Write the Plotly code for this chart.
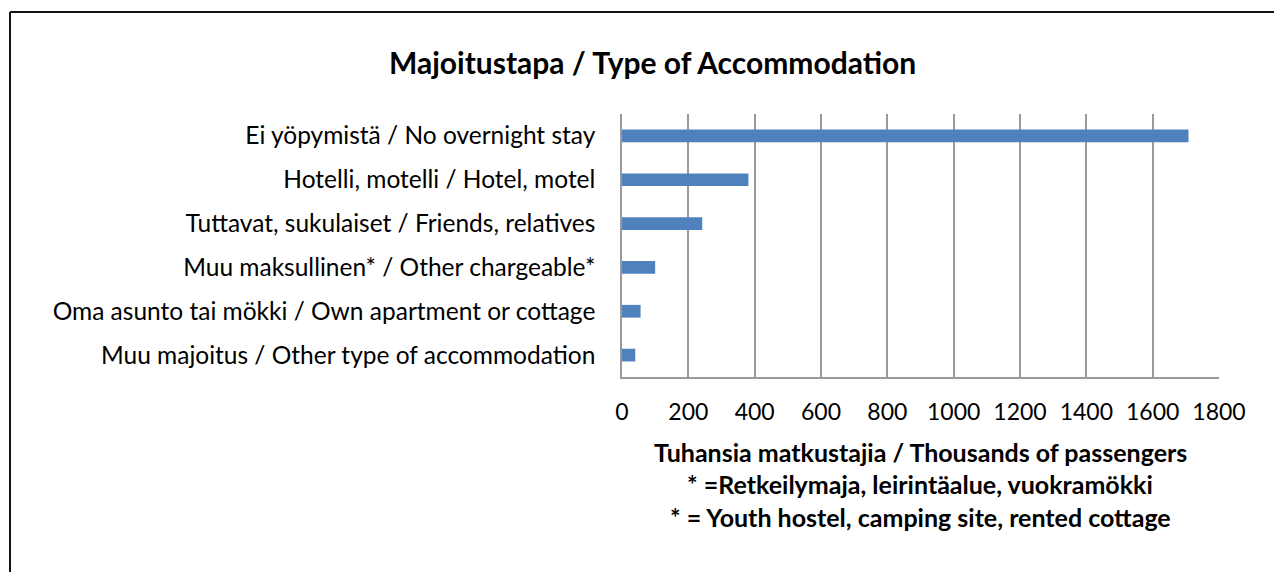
import plotly.graph_objects as go

categories = [
    "Ei yöpymistä / No overnight stay",
    "Hotelli, motelli / Hotel, motel",
    "Tuttavat, sukulaiset / Friends, relatives",
    "Muu maksullinen* / Other chargeable*",
    "Oma asunto tai mökki / Own apartment or cottage",
    "Muu majoitus / Other type of accommodation",
]
values = [1708, 381, 242, 100, 56, 40]
tick_vals = [0, 200, 400, 600, 800, 1000, 1200, 1400, 1600, 1800]

title_text = "Majoitustapa / Type of Accommodation"
axis_lines = [
    "Tuhansia matkustajia / Thousands of passengers",
    "* =Retkeilymaja, leirintäalue, vuokramökki",
    "* = Youth hostel, camping site, rented cottage",
]

# page offset of 8px (body margin) -> figure is 8px smaller
OFF = 8
W, H = 1282 - OFF, 572 - OFF
L, R, T, B = 622, 1219, 114, 377  # page coordinates of plot area
FONT = "Lato"

def px(x):
    return (x - L) / (R - L)

def py(y):
    return (B - y) / (B - T)

fig = go.Figure(go.Bar(
    x=values, y=categories, orientation="h",
    marker=dict(color="#4F81BD", line=dict(width=0)),
    width=0.29,
))

fig.update_layout(
    width=W, height=H,
    margin=dict(l=L - OFF, r=(W + OFF) - R, t=T - OFF, b=(H + OFF) - B),
    paper_bgcolor="white", plot_bgcolor="white",
    showlegend=False,
    font=dict(family=FONT, color="#000000", size=23),
    xaxis=dict(
        range=[0, 1800], tickvals=tick_vals, showgrid=True,
        gridcolor="#9a9a9a", gridwidth=1.5, showline=True, linecolor="#9a9a9a",
        linewidth=1.5, zeroline=False, ticks="", ticklabelstandoff=14,
        tickfont=dict(size=23, family=FONT),
    ),
    yaxis=dict(
        autorange="reversed", showline=True, linecolor="#9a9a9a", linewidth=1.5,
        ticks="", ticklabelstandoff=20, tickfont=dict(size=24.5, family=FONT),
    ),
    annotations=[
        dict(text=f"<b>{title_text}</b>", xref="paper", yref="paper",
             x=px(652), y=py(62), xanchor="center", yanchor="middle",
             showarrow=False, font=dict(size=30, family=FONT)),
    ] + [
        dict(text=f"<b>{t}</b>", xref="paper", yref="paper",
             x=px(920), y=py(yy), xanchor="center", yanchor="middle",
             showarrow=False, font=dict(size=25, family=FONT))
        for t, yy in zip(axis_lines, [452, 484, 517])
    ],
    shapes=[
        dict(type="line", xref="paper", yref="paper", x0=px(10), x1=px(1290),
             y0=py(12), y1=py(12), line=dict(color="#111111", width=2)),
        dict(type="line", xref="paper", yref="paper", x0=px(10), x1=px(10),
             y0=py(12), y1=py(580), line=dict(color="#111111", width=2)),
    ],
)

fig.write_html("out.html")
